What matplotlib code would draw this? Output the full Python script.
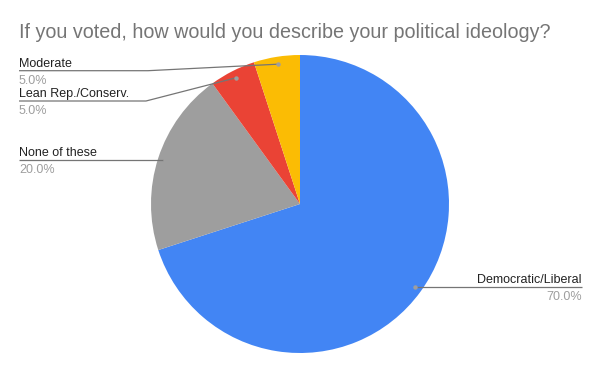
import matplotlib.pyplot as plt
import numpy as np

plt.rcParams['font.family'] = ['Liberation Sans', 'DejaVu Sans']

# data
labels = ['Democratic/Liberal', 'None of these', 'Lean Rep./Conserv.', 'Moderate']
values = [70, 20, 5, 5]
colors = ['#4285F4', '#9E9E9E', '#EA4335', '#FBBC04']

W, H = 600, 371
fig = plt.figure(figsize=(6, 3.71), dpi=100)
ax = fig.add_axes([0, 0, 1, 1])

cx, cy, r = 300, H - 204, 149
wedges, _ = ax.pie(values, colors=colors, startangle=90, counterclock=False,
                   center=(cx, cy), radius=r, frame=True,
                   wedgeprops=dict(linewidth=0))
ax.set_xlim(0, W)
ax.set_ylim(0, H)
ax.axis('off')

# label layout: (elbow point or None, end x, text side) in pixel coords (y down)
layout = {
    'Democratic/Liberal': (None, 582, 'right'),
    'None of these': (None, 19, 'left'),
    'Lean Rep./Conserv.': ((146, 101), 19, 'left'),
    'Moderate': ((148, 70.7), 19, 'left'),
}

total = sum(values)
for w, lab, v in zip(wedges, labels, values):
    ang = np.deg2rad((w.theta1 + w.theta2) / 2)
    dx = cx + 0.95 * r * np.cos(ang)
    dy = cy + 0.95 * r * np.sin(ang)
    elbow, xend, side = layout[lab]
    if elbow is None:
        ly = dy
        xs, ys = [dx, xend], [dy, dy]
    else:
        ly = H - elbow[1]
        xs, ys = [dx, elbow[0], xend], [dy, ly, ly]
    ax.plot(xs, ys, color='#757575', lw=0.9, solid_capstyle='butt')
    ax.plot(dx, dy, 'o', ms=3.2, color='#9E9E9E', mec='none')
    ax.text(xend, ly + 4.0, lab, ha=side, va='baseline', fontsize=9.0, color='#222222')
    ax.text(xend, ly - 4.2, f'{v / total * 100:.1f}%', ha=side, va='top',
            fontsize=9.0, color='#9E9E9E')

fig.text(19 / W, 1 - 38 / H, 'If you voted, how would you describe your political ideology?',
         ha='left', va='baseline', fontsize=14.2, color='#757575')

fig.savefig('out.png', dpi=100, facecolor='white')
